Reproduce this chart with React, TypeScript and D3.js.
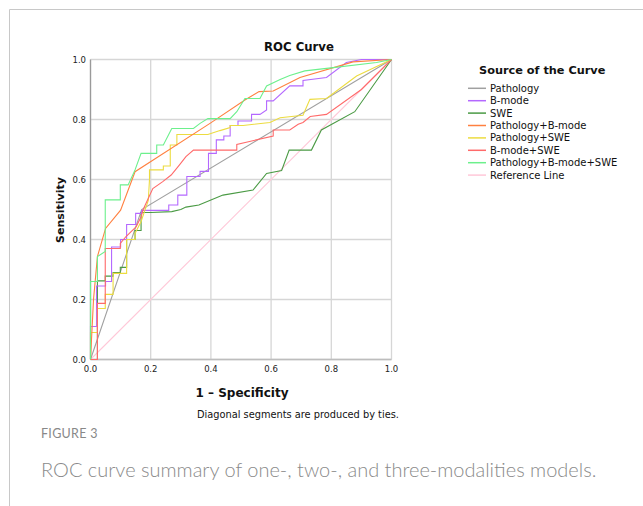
import React from "react";
import * as d3 from "d3";

type Pt = [number, number];

const seriesNames = [
  "Pathology",
  "B-mode",
  "SWE",
  "Pathology+B-mode",
  "Pathology+SWE",
  "B-mode+SWE",
  "Pathology+B-mode+SWE",
  "Reference Line",
];
const seriesColors = ["#a0a0a0", "#b468ff", "#4a9a44", "#ff8040", "#ecdc40", "#ff6a6a", "#6cf08c", "#ffc8d8"];

const pathology: Pt[] = [[0, 0], [0.17, 0.5], [1, 1]];
const bmode: Pt[] = [
  [0, 0], [0, 0.11], [0.02, 0.11], [0.02, 0.245], [0.05, 0.245], [0.05, 0.26], [0.07, 0.26], [0.07, 0.375],
  [0.1, 0.375], [0.1, 0.4], [0.12, 0.4], [0.12, 0.45], [0.15, 0.45], [0.15, 0.487], [0.17, 0.487], [0.17, 0.497],
  [0.26, 0.497], [0.26, 0.515], [0.29, 0.515], [0.29, 0.548], [0.32, 0.548], [0.32, 0.61], [0.364, 0.61],
  [0.364, 0.627], [0.392, 0.627], [0.392, 0.687], [0.418, 0.687], [0.418, 0.732], [0.443, 0.732], [0.443, 0.745],
  [0.464, 0.745], [0.464, 0.78], [0.49, 0.78], [0.49, 0.795], [0.535, 0.795], [0.535, 0.817], [0.563, 0.817],
  [0.585, 0.832], [0.585, 0.862], [0.607, 0.862], [0.662, 0.912], [0.706, 0.912], [0.706, 0.93], [0.784, 0.94],
  [0.85, 0.99], [0.9, 1.0], [1, 1],
];
const swe: Pt[] = [
  [0, 0], [0.023, 0], [0.023, 0.262], [0.049, 0.262], [0.049, 0.278], [0.075, 0.278], [0.075, 0.29], [0.099, 0.29],
  [0.099, 0.307], [0.12, 0.307], [0.12, 0.4], [0.148, 0.4], [0.148, 0.43], [0.168, 0.43], [0.168, 0.49],
  [0.2, 0.49], [0.27, 0.493], [0.3, 0.5], [0.317, 0.508], [0.36, 0.515], [0.44, 0.548], [0.54, 0.565],
  [0.585, 0.62], [0.635, 0.63], [0.66, 0.698], [0.734, 0.698], [0.767, 0.765], [0.878, 0.826], [1, 1],
];
const pathBmode: Pt[] = [
  [0, 0], [0.01, 0.2], [0.023, 0.343], [0.05, 0.437], [0.1, 0.498], [0.148, 0.626], [0.397, 0.787],
  [0.513, 0.865], [0.56, 0.893], [0.607, 0.895], [0.696, 0.94], [0.872, 0.992], [1, 1],
];
const pathSwe: Pt[] = [
  [0, 0], [0, 0.09], [0.023, 0.09], [0.023, 0.17], [0.049, 0.17], [0.049, 0.217], [0.075, 0.217], [0.075, 0.287],
  [0.12, 0.287], [0.12, 0.4], [0.148, 0.4], [0.148, 0.42], [0.168, 0.46], [0.192, 0.53], [0.196, 0.6],
  [0.196, 0.632], [0.242, 0.632], [0.242, 0.645], [0.265, 0.645], [0.265, 0.715], [0.287, 0.715], [0.287, 0.75],
  [0.39, 0.75], [0.43, 0.763], [0.464, 0.773], [0.464, 0.78], [0.507, 0.78], [0.596, 0.79], [0.63, 0.806],
  [0.706, 0.814], [0.729, 0.867], [0.784, 0.87], [0.884, 0.945], [1, 1],
];
const bmodeSwe: Pt[] = [
  [0, 0], [0.023, 0], [0.023, 0.187], [0.049, 0.187], [0.049, 0.37], [0.099, 0.37], [0.099, 0.387],
  [0.118, 0.41], [0.152, 0.443], [0.168, 0.476], [0.175, 0.5], [0.207, 0.57], [0.24, 0.593], [0.268, 0.615],
  [0.295, 0.648], [0.317, 0.676], [0.342, 0.698], [0.486, 0.698], [0.486, 0.717], [0.607, 0.745], [0.607, 0.765],
  [0.662, 0.765], [0.69, 0.784], [0.706, 0.79], [0.73, 0.81], [0.784, 0.817], [0.9, 0.9], [1, 1],
];
const allThree: Pt[] = [
  [0, 0], [0, 0.26], [0.023, 0.26], [0.023, 0.343], [0.049, 0.36], [0.049, 0.532], [0.099, 0.532],
  [0.099, 0.582], [0.125, 0.582], [0.148, 0.632], [0.168, 0.687], [0.22, 0.687], [0.22, 0.715], [0.242, 0.715],
  [0.27, 0.77], [0.342, 0.77], [0.364, 0.787], [0.39, 0.803], [0.464, 0.803], [0.486, 0.826], [0.513, 0.87],
  [0.563, 0.87], [0.585, 0.912], [0.63, 0.933], [0.662, 0.947], [0.712, 0.962], [0.806, 0.973], [0.95, 0.99],
  [1, 1],
];
const reference: Pt[] = [[0, 0], [1, 1]];

const seriesData: Pt[][] = [pathology, bmode, swe, pathBmode, pathSwe, bmodeSwe, allThree, reference];
const drawOrder = [7, 0, 2, 1, 4, 5, 3, 6];

const ticks = [0, 0.2, 0.4, 0.6, 0.8, 1.0];
const tickLabels = ["0.0", "0.2", "0.4", "0.6", "0.8", "1.0"];

export default function App() {
  const W = 643, H = 506;
  const x = d3.scaleLinear().domain([0, 1]).range([90.5, 391.5]);
  const y = d3.scaleLinear().domain([0, 1]).range([359.5, 59.5]);
  const line = d3.line<Pt>().x((d) => x(d[0])).y((d) => y(d[1]));
  const sans = "'DejaVu Sans', Verdana, sans-serif";
  const legendX = 468;
  const legendY0 = 88.3;
  const legendStep = 12.4;
  return (
    <svg width={W} height={H} style={{ position: "absolute", left: 0, top: 0 }}>
      <rect x={0} y={0} width={W} height={H} fill="#ffffff" />
      <path d={`M9.5,${H} V9.5 H${W}`} fill="none" stroke="#c8c8c8" strokeWidth={1} />
      {/* grid */}
      {ticks.map((t, i) => (
        <line key={"gx" + i} x1={x(t)} x2={x(t)} y1={y(0)} y2={y(1)} stroke="#d6d6d6" strokeWidth={1.3} />
      ))}
      {ticks.map((t, i) => (
        <line key={"gy" + i} x1={x(0)} x2={x(1)} y1={y(t)} y2={y(t)} stroke="#d6d6d6" strokeWidth={1.3} />
      ))}
      <line x1={x(0)} x2={x(0)} y1={y(0)} y2={y(1)} stroke="#9a9a9a" strokeWidth={1.3} />
      <line x1={x(0)} x2={x(1)} y1={y(0)} y2={y(0)} stroke="#bdbdbd" strokeWidth={1.3} />
      {/* curves */}
      {drawOrder.map((si) => (
        <path key={"s" + si} d={line(seriesData[si]) || ""} fill="none" stroke={seriesColors[si]} strokeWidth={1.1} />
      ))}
      {/* tick labels */}
      {ticks.map((t, i) => (
        <text key={"ty" + i} x={86} y={y(t) + 3} textAnchor="end" fontSize={8.5} fontFamily={sans} fill="#222">
          {tickLabels[i]}
        </text>
      ))}
      {ticks.map((t, i) => (
        <text key={"tx" + i} x={x(t)} y={372} textAnchor="middle" fontSize={8.5} fontFamily={sans} fill="#222">
          {tickLabels[i]}
        </text>
      ))}
      <text x={299} y={51} textAnchor="middle" fontSize={11.7} fontWeight="bold" fontFamily={sans} fill="#111">
        ROC Curve
      </text>
      <text x={0} y={0} transform="translate(64,210) rotate(-90)" textAnchor="middle" fontSize={11} fontWeight="bold" fontFamily={sans} fill="#111">
        Sensitivity
      </text>
      <text x={242} y={397} textAnchor="middle" fontSize={12} fontWeight="bold" fontFamily={sans} fill="#111">
        1 – Specificity
      </text>
      <text x={298} y={418} textAnchor="middle" fontSize={9.8} fontFamily={sans} fill="#111">
        Diagonal segments are produced by ties.
      </text>
      {/* legend */}
      <text x={479} y={74} fontSize={11.3} fontWeight="bold" fontFamily={sans} fill="#111">
        Source of the Curve
      </text>
      {seriesNames.map((n, i) => (
        <g key={"lg" + i}>
          <line x1={legendX} x2={legendX + 18} y1={legendY0 + i * legendStep} y2={legendY0 + i * legendStep} stroke={seriesColors[i]} strokeWidth={1.5} />
          <text x={legendX + 22} y={legendY0 + i * legendStep + 3.5} fontSize={10} fontFamily={sans} fill="#111">
            {n}
          </text>
        </g>
      ))}
      {/* caption */}
      <text x={41} y={438} fontSize={12.5} fontFamily="Lato, 'Open Sans', sans-serif" fill="#888" letterSpacing={0.3}>
        FIGURE 3
      </text>
      <text x={41} y={477} fontSize={20} fontWeight={300} fontFamily="Lato, 'Open Sans', sans-serif" fill="#8a8a8a">
        ROC curve summary of one-, two-, and three-modalities models.
      </text>
    </svg>
  );
}
